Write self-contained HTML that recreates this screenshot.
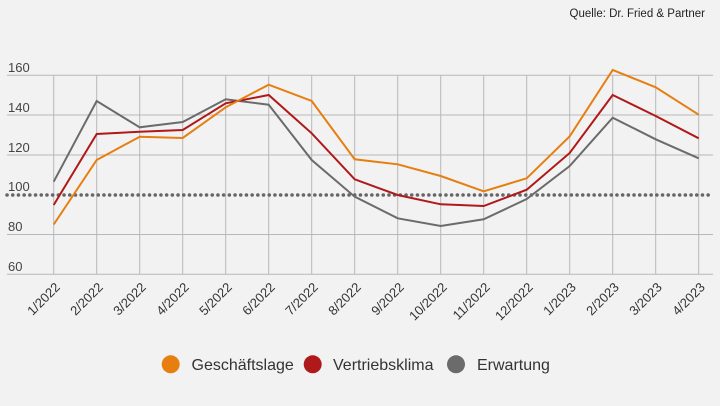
<!DOCTYPE html>
<html><head><meta charset="utf-8"><style>
body{margin:0;background:#f2f2f2;}
svg{display:block;font-family:"Liberation Sans",Arial,sans-serif;}
</style></head><body>
<svg width="720" height="406" viewBox="0 0 720 406">
<rect width="720" height="406" fill="#f2f2f2"/>
<text x="705" y="17" font-size="11.5" text-anchor="end" fill="#222">Quelle: Dr. Fried &amp; Partner</text>
<g stroke="#b8b8b8" stroke-width="1">
<line x1="7" y1="75.3" x2="713" y2="75.3"/>
<line x1="7" y1="115" x2="713" y2="115"/>
<line x1="7" y1="155" x2="713" y2="155"/>
<line x1="7" y1="234.5" x2="713" y2="234.5"/>
<line x1="7" y1="274.3" x2="713" y2="274.3"/>
</g>
<g stroke="#b8b8b8" stroke-width="1" id="vg"></g>
<g font-size="13" fill="#444">
<text x="8" y="72">160</text><text x="8" y="112">140</text><text x="8" y="152">120</text>
<text x="8" y="191">100</text><text x="8" y="231">80</text><text x="8" y="271">60</text>
</g>
<line x1="7" y1="195" x2="713" y2="195" stroke="#666" stroke-width="3.5" stroke-dasharray="0.1 5.6" stroke-linecap="round"/>
<g id="xl" font-size="13" fill="#333"></g>
<polyline fill="none" stroke="#6b6b6b" stroke-width="2" points="53.7,181.7 96.7,101 139.7,127.3 182.7,122 225.7,99.3 268.7,104.7 311.7,160 354.7,196.7 397.7,218.3 440.7,226 483.7,219.3 526.7,199 569.7,166 612.7,117.7 655.7,139.3 698.7,158.3"/>
<polyline fill="none" stroke="#b01919" stroke-width="2" points="53.7,205 96.7,134 139.7,131.7 182.7,130 225.7,103.3 268.7,95 311.7,133.3 354.7,179.3 397.7,195 440.7,204.3 483.7,206 526.7,189.7 569.7,153 612.7,95 655.7,116 698.7,138.3"/>
<polyline fill="none" stroke="#e67e10" stroke-width="2" points="53.7,224.5 96.7,160 139.7,136.7 182.7,138 225.7,107.3 268.7,84.7 311.7,101 354.7,159.3 397.7,164.3 440.7,176 483.7,191.3 526.7,178.3 569.7,136.3 612.7,70 655.7,87.3 698.7,114.7"/>
<g font-size="16" fill="#333">
<circle cx="170.7" cy="364.3" r="9" fill="#e67e10"/><text x="191.5" y="370">Geschäftslage</text>
<circle cx="312.7" cy="364.3" r="9" fill="#b01919"/><text x="333" y="370">Vertriebsklima</text>
<circle cx="456" cy="364.3" r="9" fill="#6b6b6b"/><text x="477" y="370">Erwartung</text>
</g>
<script>
var labs=["1/2022","2/2022","3/2022","4/2022","5/2022","6/2022","7/2022","8/2022","9/2022","10/2022","11/2022","12/2022","1/2023","2/2023","3/2023","4/2023"];
var vg=document.getElementById("vg"),xl=document.getElementById("xl"),ns="http://www.w3.org/2000/svg";
labs.forEach(function(l,i){var x=53.7+43*i;
var ln=document.createElementNS(ns,"line");ln.setAttribute("x1",x);ln.setAttribute("x2",x);ln.setAttribute("y1",75.3);ln.setAttribute("y2",274.3);vg.appendChild(ln);
var ax=x+7,ay=288;
var t=document.createElementNS(ns,"text");t.setAttribute("x",ax);t.setAttribute("y",ay);t.setAttribute("text-anchor","end");t.setAttribute("transform","rotate(-45 "+ax+" "+ay+")");t.textContent=l;xl.appendChild(t);});
</script>
</svg>
</body></html>
